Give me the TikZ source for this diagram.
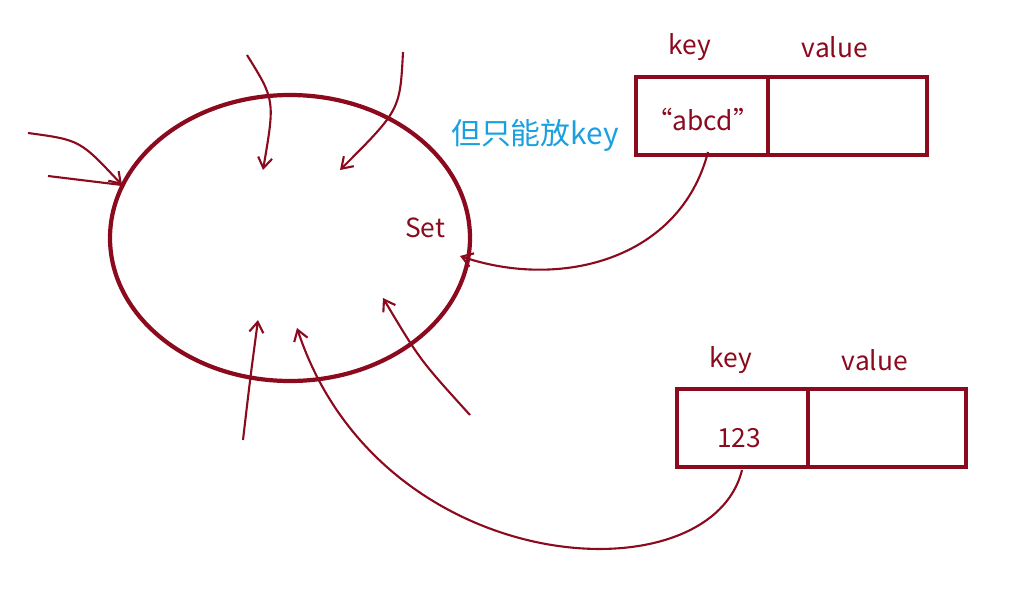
\documentclass[tikz,border=0pt]{standalone}
\usepackage{fontspec}
\setmainfont{Noto Sans CJK SC}
\usetikzlibrary{arrows.meta,calc,positioning}
\definecolor{ink}{HTML}{8B0A1E}
\definecolor{note}{HTML}{1AA0E0}
\begin{document}
\begin{tikzpicture}[x=0.02cm,y=-0.02cm,very thick]
  \tikzset{stroke/.style={ink,line width=1.2pt,-{Straight Barb[length=6pt,width=8pt]}},
           cell/.style={draw=ink,line width=2.4pt},
           lbl/.style={text=ink,font=\fontsize{15pt}{15pt}\selectfont}}
  \useasboundingbox (0,0) rectangle (1011,592);
  % Set
  \draw[ink,line width=2.4pt] (290,238) ellipse [x radius=180,y radius=143];
  \node[lbl] (set) at (425,228) {Set};
  \node[text=note,font=\fontsize{17pt}{17pt}\selectfont] (note) at (535,135) {但只能放key};
  % Box 1
  \draw[cell] (636,77) rectangle (927,155);
  \draw[cell] (768,77) -- (768,155);
  \node[lbl] (k1) at (690,47) {key};
  \node[lbl] (v1) at (835,47) {value};
  \node[lbl] (a1) at (703,120) {“abcd”};
  \coordinate (a1s) at (708,152);
  % Box 2
  \draw[cell] (677,389) rectangle (966,467);
  \draw[cell] (808,389) -- (808,467);
  \node[lbl] (k2) at (731,360) {key};
  \node[lbl] (v2) at (875,360) {value};
  \node[lbl] (a2) at (739,438) {123};
  \coordinate (a2s) at (742,470);
  % Links
  \coordinate (in1) at (460,256);
  \coordinate (in2) at (297,328);
  \draw[stroke] (a1s) .. controls (680,260) and (560,290) .. (in1);
  \draw[stroke] (a2s) .. controls (710,600) and (380,580) .. (in2);
  % Other elements
  \coordinate (t1) at (247,55);   \coordinate (t1e) at (263,170);
  \coordinate (t2) at (403,52);   \coordinate (t2e) at (340,170);
  \coordinate (l1) at (28,133);   \coordinate (l1e) at (122,185);
  \coordinate (l2) at (48,176);
  \coordinate (b1) at (243,440);  \coordinate (b1e) at (258,320);
  \coordinate (b2) at (470,415);  \coordinate (b2e) at (383,298);
  \draw[stroke] (t1) .. controls (275,100) .. (t1e);
  \draw[stroke] (t2) .. controls (400,110) .. (t2e);
  \draw[stroke] (l1) .. controls (80,140) .. (l1e);
  \draw[ink,line width=1.2pt] (l2) -- (l1e);
  \draw[stroke] (b1) .. controls (250,380) .. (b1e);
  \draw[stroke] (b2) .. controls (420,360) .. (b2e);
\end{tikzpicture}
\end{document}
